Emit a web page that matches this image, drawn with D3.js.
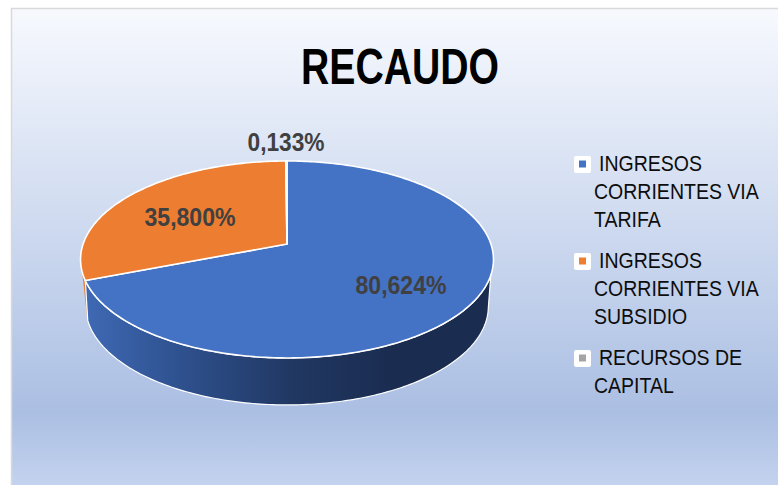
<!DOCTYPE html>
<html><head><meta charset="utf-8">
<script src="https://cdn.jsdelivr.net/npm/d3@7"></script>
<style>html,body{margin:0;padding:0;background:#fff}svg{display:block}</style></head>
<body><svg id="c" width="778" height="485"></svg>
<script>
const categories=[["INGRESOS","CORRIENTES VIA","TARIFA"],["INGRESOS","CORRIENTES VIA","SUBSIDIO"],["RECURSOS DE","CAPITAL"]];
const values=[80.624,35.800,0.133];
const valueLabels=["80,624%","35,800%","0,133%"];
const colors=["#4472c4","#ed7d31","#a5a5a5"];
const title="RECAUDO";

const svg=d3.select("#c");
const defs=svg.append("defs");
const bg=defs.append("linearGradient").attr("id","bg").attr("x1",0).attr("y1",0).attr("x2",0).attr("y2",1);
[[0,"#f7f9fe"],[.824,"#abbfe3"],[1,"#c8d6f0"]].forEach(s=>bg.append("stop").attr("offset",s[0]).attr("stop-color",s[1]));
const wall=defs.append("linearGradient").attr("id","wall").attr("gradientUnits","userSpaceOnUse").attr("x1",86).attr("x2",494).attr("y1",0).attr("y2",0);
[[0,"#3f69b4"],[.22,"#2f5290"],[.5,"#213863"],[.75,"#1a2c50"],[1,"#1a2c50"]].forEach(s=>wall.append("stop").attr("offset",s[0]).attr("stop-color",s[1]));

svg.append("rect").attr("x",11.5).attr("y",8.5).attr("width",780).attr("height",490).attr("fill","url(#bg)").attr("stroke","#d9d9d9").attr("stroke-width",1.5);

const ax=287,ay=244,k=-0.157,a=96.06,b=203.9,depth=47,rimScale=0.975,rimCx=288;
const rad=d=>d*Math.PI/180;
const proj=th=>{const u=Math.sin(th),v=-Math.cos(th),w=1+k*v;return [ax+b*u/w,ay+a*v/w];};
const pie=d3.pie().sort(null).value(d=>d)(values);
const arcPts=(s,e)=>{const n=Math.max(2,Math.ceil(Math.abs(e-s)*60));return d3.range(n+1).map(i=>proj(s+(e-s)*i/n));};
const rimPts=(s,e)=>arcPts(s,e).map(p=>[rimCx+(p[0]-rimCx)*rimScale,p[1]+depth]);
const line=d3.line();

// side wall of the first slice, then the thin sliver of the second
const sideEnd=pie[0].endAngle;
const blueWall=arcPts(rad(108),sideEnd).concat(rimPts(sideEnd+rad(4),rad(100)));
const sliver=arcPts(sideEnd,sideEnd+rad(5)).concat(rimPts(sideEnd+rad(5),sideEnd+rad(5)).slice(0,1));
svg.append("path").attr("d",line(sliver)+"Z").attr("fill",colors[1]);
svg.append("path").attr("d",line(blueWall)+"Z").attr("fill","url(#wall)")
  .attr("stroke","#fff").attr("stroke-width",1.2).attr("stroke-linejoin","round");
// top face
pie.forEach((d,i)=>{
  const pts=arcPts(d.startAngle,d.endAngle);
  svg.append("path").attr("d",line([[ax,ay],...pts])+"Z")
    .attr("fill",colors[i]).attr("stroke","#fff").attr("stroke-width",1.6).attr("stroke-linejoin","round");
});
// labels
const labelPos=[[401,287],[190,219],[286,144]];
valueLabels.forEach((t,i)=>{
  svg.append("text").attr("x",labelPos[i][0]).attr("y",labelPos[i][1]).attr("text-anchor","middle").attr("dominant-baseline","middle")
   .attr("font-family","'Liberation Sans Narrow','Liberation Sans',Arial,sans-serif").attr("font-weight","700").attr("font-size",26)
   .attr("fill","#404040").attr("textLength",i==2?77:91).attr("lengthAdjust","spacingAndGlyphs").text(t);
});
svg.append("text").attr("x",400).attr("y",84).attr("text-anchor","middle")
  .attr("font-family","'Liberation Sans',Arial,sans-serif").attr("font-weight","700").attr("font-size",50)
  .attr("fill","#000").attr("textLength",198).attr("lengthAdjust","spacingAndGlyphs").text(title);
// legend
const legY=[164,261,358];
categories.forEach((lines,i)=>{
  const g=svg.append("g");
  g.append("rect").attr("x",574).attr("y",legY[i]-8).attr("width",17).attr("height",17).attr("rx",2).attr("fill","#fff");
  g.append("rect").attr("x",579).attr("y",legY[i]-3.5).attr("width",7).attr("height",7).attr("fill",colors[i]);
  lines.forEach((l,j)=>{
    g.append("text").attr("transform",`translate(${j==0?599:594},${legY[i]+7.2+j*27.8}) scale(0.868,1)`)
     .attr("font-family","'Liberation Sans',Arial,sans-serif").attr("font-size",22.5).attr("fill","#0d0d0d").text(l);
  });
});
</script></body></html>
